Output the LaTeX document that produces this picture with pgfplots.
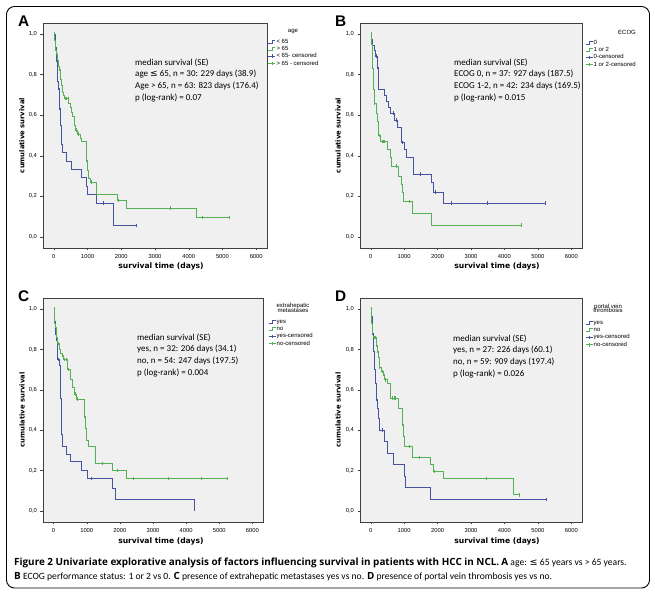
\documentclass[border=0pt]{standalone}
\usepackage{fontspec}
\setmainfont{Liberation Sans}
\newfontfamily\labfont{DejaVu Sans}
\newfontfamily\annfont{Carlito}
\newfontfamily\capbold{Open Sans}
\newfontfamily\symfont{DejaVu Sans}
\usepackage{pgfplots}
\pgfplotsset{compat=1.18}

\definecolor{kmblue}{RGB}{70,84,160}
\definecolor{kmgreen}{RGB}{84,178,84}
\definecolor{plotbg}{RGB}{240,240,240}

\newcommand{\tickfont}{\fontsize{5.8}{6}\selectfont}
\newcommand{\legfont}{\fontsize{6}{6}\selectfont}
\newcommand{\annot}{\annfont\fontsize{9}{11.6}\selectfont}
\newcommand{\cb}[1]{{\capbold\bfseries\fontsize{9.9}{10}\selectfont #1}}

\pgfplotsset{
  km/.style={
    scale only axis, clip=false,
    xmin=-320, xmax=6320, ymin=-0.055, ymax=1.055,
    axis background/.style={fill=plotbg},
    axis line style={draw=black!75, line width=0.5pt},
    tick align=outside, xtick pos=bottom, ytick pos=left,
    major tick length=2.5pt,
    tick style={draw=black!75, line width=0.4pt},
    xtick={0,1000,...,6000}, ytick={0,0.2,0.4,0.6,0.8,1.0},
    scaled ticks=false,
    /pgf/number format/assume math mode=true,
    xticklabel style={font=\tickfont, /pgf/number format/1000 sep={}},
    yticklabel style={font=\tickfont, /pgf/number format/.cd, fixed, fixed zerofill, precision=1, use comma},
    xlabel={survival time (days)}, ylabel={cumulative survival},
    xlabel style={font=\labfont\bfseries\fontsize{7.6}{8}\selectfont, anchor=center},
    ylabel style={font=\labfont\bfseries\fontsize{6.8}{7}\selectfont, anchor=center},
    legend cell align=left,
    legend style={draw=none, fill=none, anchor=north west, inner sep=0pt, row sep=1pt,
      font=\legfont, nodes={inner xsep=0.8pt, inner ysep=0.4pt, text height=4.3pt, text depth=1.2pt}},
  },
  kmline/.style={const plot, line width=0.6pt, #1,
    legend image code/.code={\draw[#1, line width=0.6pt] (0pt,-1.6pt) -- (3.5pt,-1.6pt) -- (3.5pt,1.6pt) -- (7pt,1.6pt);}},
  kmcens/.style={only marks, mark=|, mark size=1.8pt, mark options={draw=#1, line width=0.6pt},
    legend image code/.code={\draw[#1, line width=0.6pt] (0pt,0pt) -- (7pt,0pt) (3.5pt,-1.8pt) -- (3.5pt,1.8pt);}},
}

\begin{document}
\begin{tikzpicture}
\useasboundingbox (0pt,0pt) rectangle (655pt,593pt);
\fill[white] (0pt,0pt) rectangle (655pt,593pt);
\draw[line width=0.9pt, rounded corners=8pt] (6.5pt,5pt) rectangle (649.5pt,586.5pt);

% ---------- A: age ----------
\begin{axis}[km, at={(43pt,345pt)}, anchor=south west, width=224pt, height=225pt,
  xlabel style={at={(axis description cs:0.527,-0.084)}},
  ylabel style={at={(axis description cs:-0.094,0.5)}},
  legend style={at={(1.004,0.932)}}]
\addplot[kmline=kmblue] coordinates {
(0,1.0) (30,0.967) (50,0.933) (70,0.900) (80,0.867) (90,0.833) (100,0.800) (110,0.767)
(120,0.733) (150,0.700) (160,0.667) (170,0.633) (190,0.583) (200,0.550) (208,0.500)
(230,0.458) (257,0.417) (376,0.375) (525,0.333) (822,0.292) (950,0.250) (990,0.208)
(1247,0.167) (1762,0.056) (2455,0.056)};
\addplot[kmline=kmgreen] coordinates {
(0,1.0) (15,0.968) (30,0.952) (45,0.921) (60,0.905) (90,0.873) (120,0.841) (150,0.825)
(180,0.810) (200,0.778) (230,0.746) (260,0.714) (277,0.698) (320,0.682) (440,0.660)
(480,0.638) (525,0.616) (560,0.594) (594,0.572) (620,0.550) (650,0.528) (700,0.506)
(800,0.484) (822,0.470) (950,0.430) (965,0.380) (990,0.330) (1020,0.290) (1069,0.270)
(1267,0.210) (1881,0.180) (2158,0.143) (4237,0.095) (5198,0.095)};
\addplot[kmcens=kmblue] coordinates {
(130,0.733) (175,0.633) (208,0.500) (1465,0.167) (2455,0.056)};
\addplot[kmcens=kmgreen] coordinates {
(20,1.0) (60,0.905) (150,0.825) (330,0.682) (380,0.682) (420,0.682) (660,0.528)
(720,0.506) (965,0.380) (1110,0.270) (1900,0.180) (3465,0.143) (4415,0.095) (5198,0.095)};
\legend{< 65, > 65, < 65- censored, > 65 - censored}
\end{axis}

% ---------- B: ECOG ----------
\begin{axis}[km, at={(360pt,345pt)}, anchor=south west, width=222pt, height=225pt,
  xlabel style={at={(axis description cs:0.617,-0.084)}},
  ylabel style={at={(axis description cs:-0.099,0.5)}},
  legend style={at={(1.014,0.927)}}]
\addplot[kmline=kmblue] coordinates {
(0,1.0) (30,0.973) (60,0.946) (100,0.919) (140,0.892) (190,0.865) (210,0.830) (240,0.730)
(420,0.700) (470,0.670) (540,0.640) (600,0.610) (720,0.575) (800,0.540) (930,0.465)
(1000,0.430) (1050,0.390) (1270,0.310) (1800,0.270) (1870,0.220) (2170,0.167) (5220,0.167)};
\addplot[kmline=kmgreen] coordinates {
(0,1.0) (20,0.952) (40,0.870) (55,0.830) (70,0.770) (90,0.730) (110,0.690) (120,0.660)
(170,0.610) (200,0.570) (220,0.520) (240,0.500) (300,0.470) (500,0.430) (600,0.390)
(620,0.350) (840,0.300) (920,0.260) (940,0.220) (970,0.175) (1240,0.115) (1800,0.058) (4490,0.058)};
\addplot[kmcens=kmblue] coordinates {
(170,0.892) (215,0.830) (230,0.830) (670,0.610) (770,0.575) (950,0.465) (1470,0.310)
(1920,0.220) (2420,0.167) (3500,0.167) (5220,0.167)};
\addplot[kmcens=kmgreen] coordinates {
(10,1.0) (120,0.660) (250,0.500) (340,0.470) (370,0.470) (400,0.470) (770,0.350)
(1140,0.175) (4490,0.058)};
\legend{0, 1 or 2, 0-censored, 1 or 2-censored}
\end{axis}

% ---------- C: extrahepatic metastases ----------
\begin{axis}[km, at={(43pt,71pt)}, anchor=south west, width=220pt, height=224pt,
  xlabel style={at={(axis description cs:0.536,-0.085)}},
  ylabel style={at={(axis description cs:-0.095,0.5)}},
  legend style={at={(1.023,0.909)}}]
\addplot[kmline=kmblue] coordinates {
(0,1.0) (20,0.969) (30,0.938) (50,0.906) (60,0.875) (80,0.844) (99,0.813) (110,0.781)
(120,0.750) (180,0.719) (190,0.680) (200,0.620) (210,0.560) (220,0.520) (228,0.490)
(235,0.420) (240,0.380) (248,0.320) (397,0.280) (516,0.245) (823,0.200) (1012,0.160)
(1786,0.110) (1855,0.055) (4246,0.0)};
\addplot[kmline=kmgreen] coordinates {
(0,1.0) (15,0.981) (30,0.930) (50,0.910) (79,0.860) (100,0.850) (119,0.830) (179,0.800)
(210,0.780) (248,0.770) (298,0.750) (417,0.700) (516,0.650) (575,0.610) (620,0.580)
(694,0.555) (913,0.470) (952,0.410) (992,0.350) (1042,0.320) (1270,0.235) (1766,0.200)
(2182,0.160) (5238,0.160)};
\addplot[kmcens=kmblue] coordinates {
(149,0.750) (228,0.490) (1141,0.160)};
\addplot[kmcens=kmgreen] coordinates {
(10,1.0) (149,0.830) (248,0.770) (327,0.750) (377,0.750) (397,0.750) (446,0.700)
(645,0.580) (714,0.555) (913,0.470) (1468,0.235) (1934,0.200) (2400,0.160) (3472,0.160)
(4444,0.160) (5238,0.160)};
\legend{yes, no, yes-censored, no-censored}
\end{axis}

% ---------- D: portal vein thrombosis ----------
\begin{axis}[km, at={(360pt,71pt)}, anchor=south west, width=222pt, height=224pt,
  xlabel style={at={(axis description cs:0.617,-0.085)}},
  ylabel style={at={(axis description cs:-0.099,0.5)}},
  legend style={at={(1.014,0.904)}}]
\addplot[kmline=kmblue] coordinates {
(0,1.0) (20,0.963) (40,0.926) (50,0.890) (60,0.875) (90,0.790) (110,0.750) (120,0.700)
(140,0.670) (150,0.630) (160,0.590) (170,0.555) (200,0.510) (239,0.460) (269,0.400)
(399,0.345) (499,0.285) (668,0.230) (997,0.170) (1047,0.115) (1795,0.057) (5254,0.057)};
\addplot[kmline=kmgreen] coordinates {
(0,1.0) (10,0.966) (20,0.932) (40,0.910) (60,0.880) (80,0.860) (170,0.820) (199,0.790)
(230,0.760) (249,0.710) (319,0.690) (369,0.670) (419,0.650) (499,0.630) (598,0.560)
(837,0.510) (937,0.430) (977,0.370) (1017,0.320) (1236,0.265) (1795,0.230) (1864,0.195)
(2163,0.160) (4257,0.080) (4457,0.080)};
\addplot[kmcens=kmblue] coordinates {
(70,0.875) (170,0.555) (339,0.400) (5254,0.057)};
\addplot[kmcens=kmgreen] coordinates {
(10,1.0) (40,0.910) (100,0.860) (140,0.860) (170,0.820) (199,0.790) (249,0.710)
(339,0.690) (399,0.670) (439,0.650) (648,0.560) (718,0.560) (748,0.560) (937,0.430)
(1166,0.320) (1466,0.265) (1894,0.195) (3460,0.160) (4457,0.080)};
\legend{yes, no, yes-censored, no-censored}
\end{axis}

% panel letters
\foreach \l/\x/\y in {A/18/577, B/335/577, C/18/302, D/335/302}
  \node[anchor=north west, inner sep=0pt, font=\bfseries\fontsize{15.4}{16}\selectfont] at (\x pt,\y pt) {\l};

% legend titles
\node[font=\legfont, align=center] at (293pt,561pt) {age};
\node[font=\legfont, align=center] at (627pt,561pt) {ECOG};
\node[font=\legfont, align=center, inner sep=0pt] at (293pt,285pt) {extrahepatic\\[-1.4pt]metastases};
\node[font=\legfont, align=center, inner sep=0pt] at (608pt,284.5pt) {portal vein\\[-1.4pt]thrombosis};

% annotations
\node[anchor=north west, inner sep=0pt, align=left, font=\annot] at (135pt,534.5pt)
  {median survival (SE)\\age {\symfont ≤} 65, n = 30: 229 days (38.9)\\Age > 65, n = 63: 823 days (176.4)\\p (log-rank) = 0.07};
\node[anchor=north west, inner sep=0pt, align=left, font=\annot] at (454pt,534.5pt)
  {median survival (SE)\\ECOG 0, n = 37: 927 days (187.5)\\ECOG 1-2, n = 42: 234 days (169.5)\\p (log-rank) = 0.015};
\node[anchor=north west, inner sep=0pt, align=left, font=\annot] at (137pt,259.5pt)
  {median survival (SE)\\yes, n = 32: 206 days (34.1)\\no, n = 54: 247 days (197.5)\\p (log-rank) = 0.004};
\node[anchor=north west, inner sep=0pt, align=left, font=\annot] at (453pt,258.5pt)
  {median survival (SE)\\yes, n = 27: 226 days (60.1)\\no, n = 59: 909 days (197.4)\\p (log-rank) = 0.026};

% caption
\node[anchor=base west, inner sep=0pt, font=\annfont\fontsize{9.6}{10}\selectfont] at (14pt,27pt)
  {\cb{Figure 2 Univariate explorative analysis of factors influencing survival in patients with HCC in NCL.} \cb{A} age: {\symfont ≤} 65 years vs > 65 years.};
\node[anchor=base west, inner sep=0pt, font=\annfont\fontsize{9.6}{10}\selectfont] at (14pt,13pt)
  {\cb{B} ECOG performance status: 1 or 2 vs 0. \cb{C} presence of extrahepatic metastases yes vs no. \cb{D} presence of portal vein thrombosis yes vs no.};
\end{tikzpicture}
\end{document}
